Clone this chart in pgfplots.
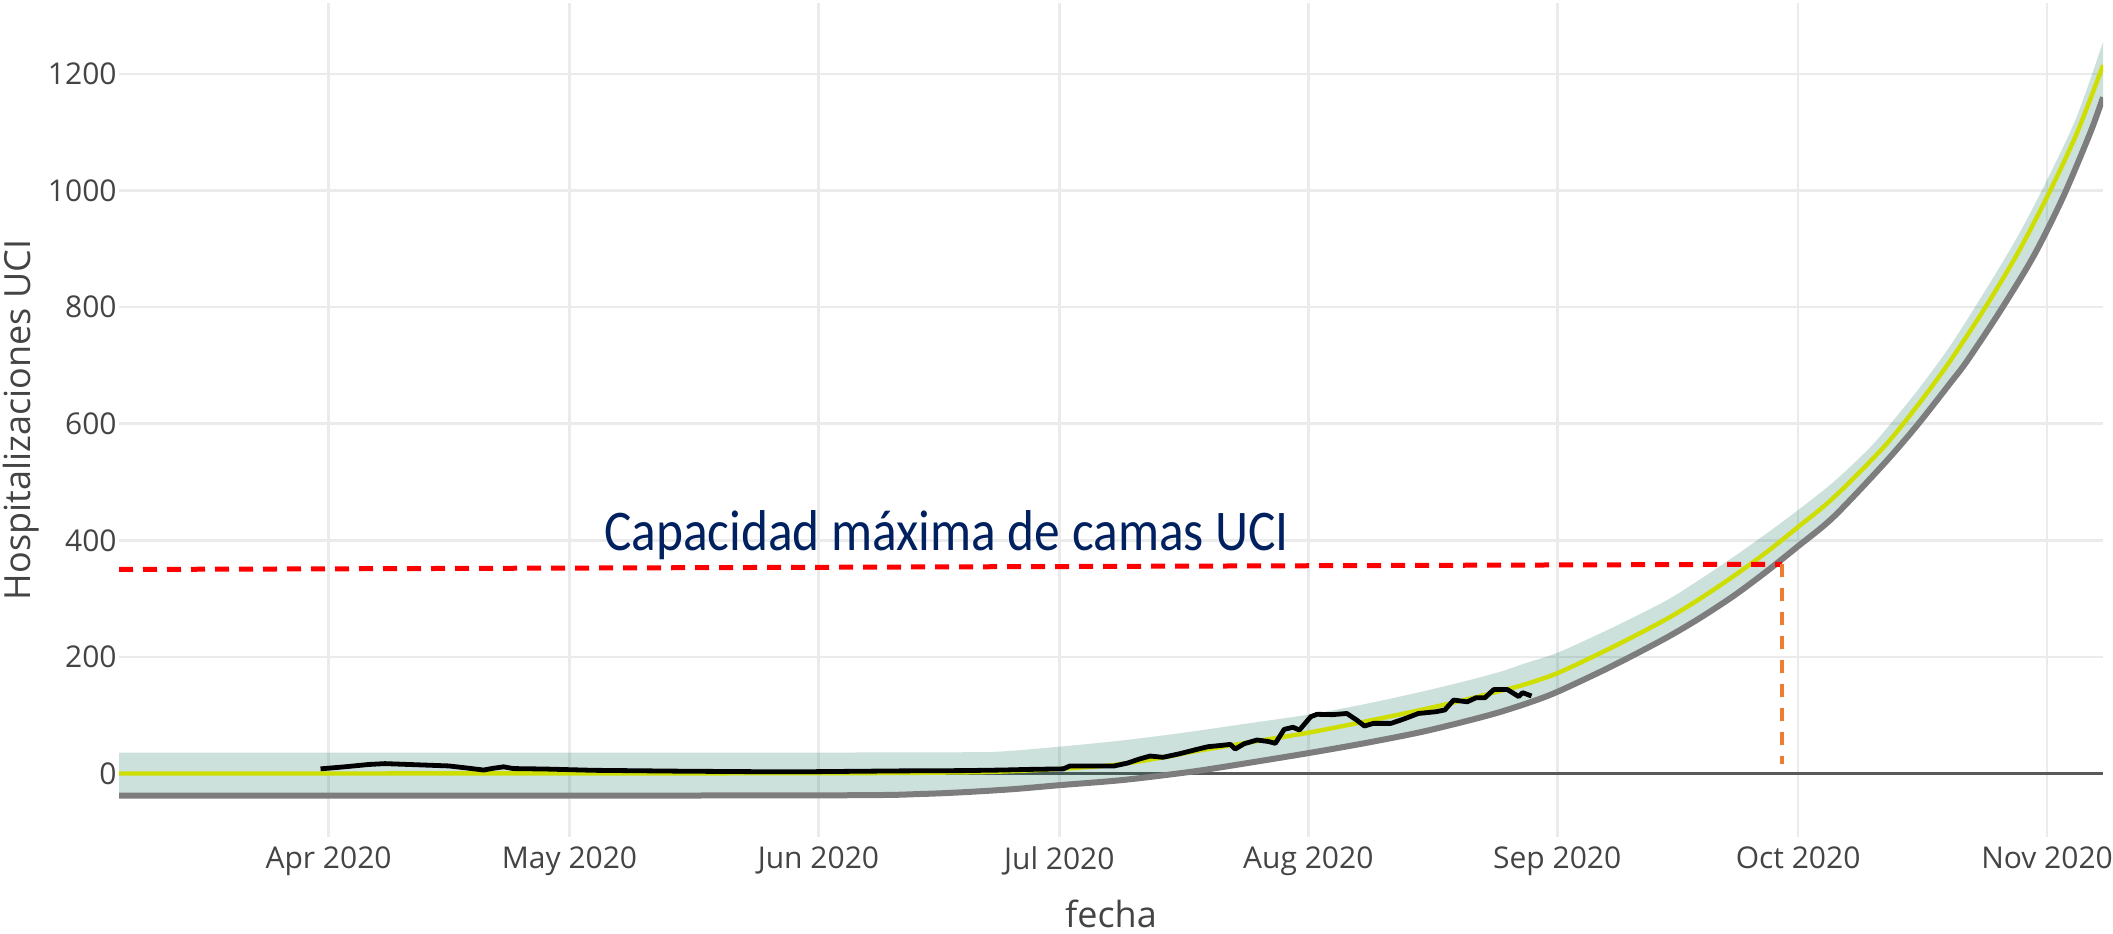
\documentclass[border=0pt]{standalone}
\usepackage{fontspec}
\setmainfont{Open Sans}
\newfontfamily\calib{Carlito}
\usepackage{graphicx}
\usepackage{pgfplots}
\usepackage{pgfplotstable}
\pgfplotsset{compat=1.18}
\usepgfplotslibrary{fillbetween}
\definecolor{tickgray}{HTML}{444444}
\definecolor{gridgray}{HTML}{EBEBEB}
\definecolor{bandcol}{RGB}{0,100,80}
\definecolor{meancol}{RGB}{206,222,0}
\definecolor{lowcol}{RGB}{125,125,125}
\definecolor{capred}{RGB}{255,0,0}
\definecolor{caporange}{HTML}{ED7D31}
\definecolor{navy}{HTML}{002060}

\pgfplotstableread{
d v
64.9 36
100 36
150 36
170 36.5
175 38
182 46
190 57
198 71
205 85
213 101
220 119
227 140
233 160
237 175
240 189
244 207
249.3 240
253.5 268
258 300
262 335
266 372
270 411
274 452
278.4 500
282.5 553
284.6 585
288.8 656
292.9 733
297.1 824
301.2 918
305 1018
308.7 1127
311.97 1255
}\uptab

\pgfplotstableread{
d v
64.9 0
150 0.5
170 2
176 4
182 8
189 15
195.5 29
198.4 37
205 52
213 70
220 89
227 109
233 128
237 142
240 153
244 172
249.3 206
253.5 235
258 268
261.8 300
266 339
270.1 380
274 423
278.4 473
284.6 559
288.8 630
292.9 707
297.1 795
301.2 889
305 989
308.7 1098
311.97 1215
}\meantab

\pgfplotstableread{
d v
64.9 -38
150 -37.5
165 -35
175 -28
182 -20
190 -11
198.4 3
205 17
213 35
220 52
227 71
233 91
237 106
241 124
244 140
249.3 174
253.5 203
258 236
261.8 267
266 305
270.1 347
274 390
278.4 440
284.6 530
288.8 597
292.9 669
295 707
299.1 792
303.3 887
307 989
310.4 1100
311.97 1160
}\lowtab

\pgfplotstableread{
d v
90 8
93 11.5
96 15.5
98 17
100 16
103 14.5
106 13
108.5 9
110.3 6
111.5 9
112.8 11.5
114 8.5
118 7.7
124 5.5
135 4
146 3
150 3
162 4.5
170 5
175 6
178 7
182.5 8
183.3 12.9
188.8 12.9
190.5 18
192 25
193.3 30
194.9 27.8
197 34
199 41
200.5 46
202 48
203.3 50
203.9 42
205 51
206.6 57.5
208 55
208.9 51.8
210 75.8
211.1 79.3
211.9 74.6
213.3 97.4
214.1 101.6
216 101
217.8 103
219 92
220 81.5
221.1 86
223.3 86
225 94
226.7 103
228.9 106
230 109
231.1 126
232.8 123
233.9 130
235 130
236.1 144
237.8 144
239.2 132
239.7 138.7
240.8 133
}\obstab

\begin{document}
\begin{tikzpicture}
\begin{axis}[
 at={(0,0)}, anchor=south west,
 scale only axis, width=992pt, height=417pt,
 xmin=64.9, xmax=311.97, ymin=-108.9, ymax=1321.8,
 axis line style={draw=none},
 major tick length=0pt,
 xtick={91,121,152,182,213,244,274,305},
 xticklabels={Apr 2020,May 2020,Jun 2020,Jul 2020,Aug 2020,Sep 2020,Oct 2020,Nov 2020},
 ytick={0,200,400,600,800,1000,1200},
 extra y ticks={0}, extra y tick labels={},
 extra y tick style={grid=major, major grid style={draw=black!65, line width=1.2pt}},
 grid=major, major grid style={draw=gridgray, line width=1.3pt},
 tick label style={font=\fontsize{15}{18}\selectfont, text=tickgray},
 xticklabel style={anchor=north, inner sep=0pt, yshift=-4.5pt},
 yticklabel style={anchor=east, inner sep=0pt, xshift=-1pt},
 /pgf/number format/assume math mode=true,
 /pgf/number format/1000 sep={},
 xlabel={fecha}, ylabel={Hospitalizaciones UCI},
 label style={font=\fontsize{18}{22}\selectfont, text=tickgray, inner sep=0pt},
 xlabel style={at={(axis description cs:0.5,-0.109)}, anchor=base},
 ylabel style={at={(axis description cs:-0.0494,0.5)}, anchor=center},
]
\addplot[name path=up, draw=none, smooth, forget plot] table[x=d,y=v] {\uptab};
\addplot[name path=lo, draw=none, smooth, forget plot] table[x=d,y=v] {\lowtab};
\addplot[fill=bandcol, fill opacity=0.2, draw=none] fill between[of=up and lo];
\addplot[draw=lowcol, line width=3pt, smooth] table[x=d,y=v] {\lowtab};
\addplot[draw=meancol, line width=2.2pt, smooth] table[x=d,y=v] {\meantab};
\addplot[draw=black, line width=2.4pt, line join=round] table[x=d,y=v] {\obstab};
\addplot[draw=capred, line width=2.5pt, dash pattern=on 7pt off 5pt] coordinates {(64.9,350) (272,359)};
\addplot[draw=caporange, line width=2pt, dash pattern=on 6.5pt off 5.5pt] coordinates {(272,359) (272,17)};
\node[anchor=base west, inner sep=0pt, text=navy, font=\calib\fontsize{25.7}{30}\selectfont] at (axis cs:125.25,383) {\scalebox{1}[1.12]{Capacidad máxima de camas UCI}};
\end{axis}
\path (-59.5pt,-48pt) rectangle (997pt,418.5pt);
\end{tikzpicture}
\end{document}
